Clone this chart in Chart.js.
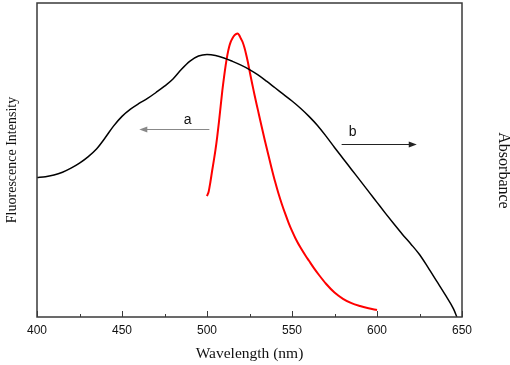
<!DOCTYPE html>
<html lang="en">

<head>
  <meta charset="UTF-8" />
  <title>Fluorescence / Absorbance</title>
  <script src="https://cdn.jsdelivr.net/npm/chart.js"></script>
  <style>
    html, body { margin: 0; padding: 0; background: #ffffff; }
    #box { width: 510px; height: 365px; }
  </style>
</head>

<body>
  <div id="box">
    <canvas id="grafico"></canvas>
  </div>

  <script>
    // curve b (black) - absorbance
    var absWavelength = [400, 405, 410, 415, 420, 425, 430, 435, 440, 445, 450, 455, 460, 465, 470, 475,
      480, 485, 490, 495, 500, 505, 510, 515, 520, 525, 530, 535, 540, 545, 550, 555, 560, 565, 570,
      575, 580, 585, 590, 595, 600, 605, 610, 615, 620, 625, 630, 635, 640, 645, 647];
    var absValues = [44.4, 44.7, 45.2, 46.1, 47.4, 49.0, 51.0, 53.5, 57.0, 60.8, 63.9, 66.2, 68.0, 69.6, 71.5, 73.5,
      75.8, 78.9, 81.5, 83.1, 83.6, 83.3, 82.5, 81.4, 80.2, 78.8, 77.1, 75.1, 73.0, 70.9, 68.8, 66.5, 63.9, 61.0, 57.6,
      54.0, 50.5, 47.0, 43.5, 40.0, 36.5, 33.0, 29.6, 26.3, 23.2, 19.9, 15.8, 11.5, 7.2, 2.6, 0];

    // curve a (red) - fluorescence
    var fluoWavelength = [500, 501, 502, 503, 504, 505, 506, 507, 508, 509, 510, 511, 512, 513, 514, 515, 516, 517,
      518, 519, 520, 521, 522, 523, 524, 525, 526, 527, 528, 530, 532, 534, 536, 538, 540, 542, 544, 546, 548, 550,
      552, 555, 558, 560, 563, 566, 570, 575, 580, 585, 590, 595, 600];
    var fluoValues = [38.5, 40.0, 43.0, 46.5, 49.8, 53.3, 57.4, 62.0, 67.0, 72.0, 76.3, 80.2, 83.5, 86.0, 87.7, 88.8, 89.6, 90.1,
      90.3, 89.7, 88.6, 87.5, 85.8, 83.7, 81.3, 78.5, 75.8, 73.2, 70.6, 65.8, 61.0, 56.3, 51.8, 47.4, 43.2, 39.4, 36.0, 32.9, 30.0, 27.4,
      25.1, 22.1, 19.5, 17.9, 15.5, 13.3, 10.6, 7.8, 5.8, 4.4, 3.5, 2.8, 2.2];

    // x axis ticks
    var majorTicks = [400, 450, 500, 550, 600, 650];
    var minorTicks = [425, 475, 525, 575, 625];

    // the two arrows and their letters
    var arrowLabels = ["a", "b"];
    var arrowFrom = [501.4, 579.2];
    var arrowTo = [460.2, 623.4];
    var arrowY = [59.8, 55.0];
    var labelX = [488.6, 585.7];
    var labelY = [62.7, 59.0];
    var arrowColors = ["#888888", "#222222"];

    var serif = '"Liberation Serif", "Times New Roman", serif';

    function pares(xs, ys) {
      var lista = [];
      for (var i = 0; i < xs.length; i++) {
        lista.push({ x: xs[i], y: ys[i] });
      }
      return lista;
    }

    // box, inward ticks, arrows, right-hand title
    var extras = {
      id: 'extras',
      afterDatasetsDraw: function (chart) {
        var ctx = chart.ctx;
        var area = chart.chartArea;
        var x = chart.scales.x;
        var y = chart.scales.y;

        ctx.save();
        ctx.strokeStyle = '#3a3a3a';
        ctx.lineWidth = 1.5;
        ctx.strokeRect(area.left, area.top, area.right - area.left, area.bottom - area.top);

        ctx.lineWidth = 1;
        ctx.beginPath();
        majorTicks.forEach(function (v) {
          var px = Math.round(x.getPixelForValue(v)) + 0.5;
          ctx.moveTo(px, area.bottom);
          ctx.lineTo(px, area.bottom - 6);
        });
        minorTicks.forEach(function (v) {
          var px = Math.round(x.getPixelForValue(v)) + 0.5;
          ctx.moveTo(px, area.bottom);
          ctx.lineTo(px, area.bottom - 3);
        });
        ctx.stroke();

        for (var i = 0; i < arrowLabels.length; i++) {
          var x0 = x.getPixelForValue(arrowFrom[i]);
          var x1 = x.getPixelForValue(arrowTo[i]);
          var py = Math.round(y.getPixelForValue(arrowY[i])) + 0.5;
          var dir = x1 > x0 ? 1 : -1;
          ctx.strokeStyle = arrowColors[i];
          ctx.fillStyle = arrowColors[i];
          ctx.lineWidth = 1;
          ctx.beginPath();
          ctx.moveTo(x0, py);
          ctx.lineTo(x1 - dir * 6, py);
          ctx.stroke();
          ctx.beginPath();
          ctx.moveTo(x1, py);
          ctx.lineTo(x1 - dir * 8, py - 3);
          ctx.lineTo(x1 - dir * 8, py + 3);
          ctx.closePath();
          ctx.fill();

          ctx.fillStyle = '#111111';
          ctx.font = '14px "Liberation Sans", Arial, sans-serif';
          ctx.textAlign = 'center';
          ctx.textBaseline = 'middle';
          ctx.fillText(arrowLabels[i], x.getPixelForValue(labelX[i]), y.getPixelForValue(labelY[i]));
        }

        // "Absorbance" sits a bit lower than the middle of the plot
        ctx.translate(area.right + 41.5, (area.top + area.bottom) / 2 + 10.5);
        ctx.rotate(Math.PI / 2);
        ctx.fillStyle = '#111111';
        ctx.font = '16px ' + serif;
        ctx.textAlign = 'center';
        ctx.textBaseline = 'middle';
        ctx.fillText('Absorbance', 0, 0);
        ctx.restore();
      }
    };

    new Chart(document.getElementById('grafico'), {
      type: 'line',
      data: {
        datasets: [{
          label: 'b',
          data: pares(absWavelength, absValues),
          yAxisID: 'y2',
          borderColor: '#000000',
          borderWidth: 1.5,
          pointRadius: 0,
          cubicInterpolationMode: 'monotone',
          fill: false
        }, {
          label: 'a',
          data: pares(fluoWavelength, fluoValues),
          yAxisID: 'y',
          borderColor: '#ff0000',
          borderWidth: 2,
          pointRadius: 0,
          cubicInterpolationMode: 'monotone',
          fill: false
        }]
      },
      options: {
        responsive: true,
        maintainAspectRatio: false,
        animation: false,
        layout: { padding: { top: 3, left: 0, right: 0, bottom: 0 } },
        plugins: {
          legend: { display: false },
          tooltip: { enabled: false }
        },
        scales: {
          x: {
            type: 'linear',
            min: 400,
            max: 650,
            grid: { display: false, drawTicks: false },
            border: { display: false },
            ticks: {
              stepSize: 50,
              autoSkip: false,
              maxRotation: 0,
              padding: 6,
              color: '#111111',
              font: { family: '"Liberation Sans", Arial, sans-serif', size: 12 }
            },
            title: {
              display: true,
              text: 'Wavelength (nm)',
              color: '#111111',
              font: { family: serif, size: 15.5 },
              padding: { top: 0, bottom: 2 }
            },
            afterFit: function (scale) { scale.height = 48; }
          },
          y: {
            position: 'left',
            min: 0,
            max: 100,
            grid: { display: false },
            border: { display: false },
            ticks: { display: false },
            title: {
              display: true,
              text: 'Fluorescence Intensity',
              color: '#111111',
              font: { family: serif, size: 14 },
              padding: { top: 3.6, bottom: 0 }
            },
            afterFit: function (scale) { scale.width = 37; }
          },
          y2: {
            position: 'right',
            min: 0,
            max: 100,
            grid: { display: false },
            border: { display: false },
            ticks: { display: false },
            afterFit: function (scale) { scale.width = 48; }
          }
        }
      },
      plugins: [extras]
    });
  </script>
</body>

</html>
